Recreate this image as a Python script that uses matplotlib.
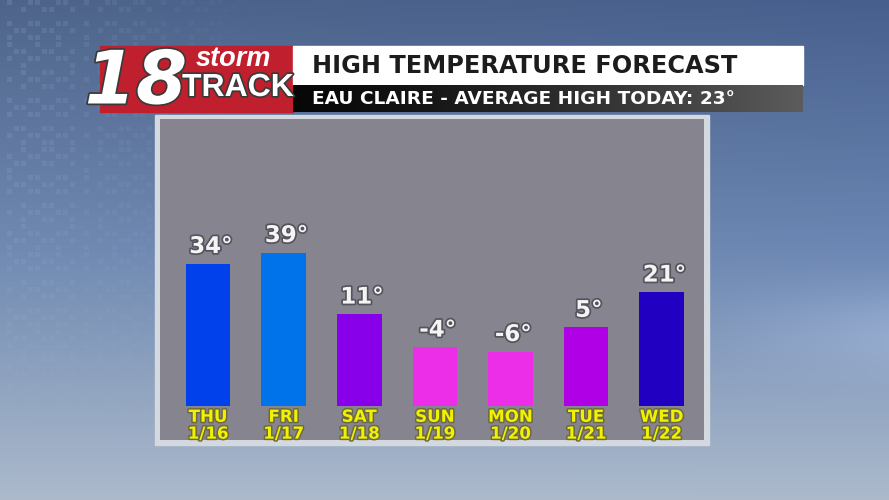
import numpy as np
import matplotlib
matplotlib.use("Agg")
import matplotlib.pyplot as plt
from matplotlib.patches import Rectangle
import matplotlib.patheffects as pe

# ---- data ----
days = ["THU", "FRI", "SAT", "SUN", "MON", "TUE", "WED"]
dates = ["1/16", "1/17", "1/18", "1/19", "1/20", "1/21", "1/22"]
highs = [34, 39, 11, -4, -6, 5, 21]
title = "HIGH TEMPERATURE FORECAST"
subtitle = "EAU CLAIRE - AVERAGE HIGH TODAY: 23°"

# ---- styles ----
bar_colors = ["#0041ec", "#0073ea", "#8800e9", "#ec2ee9", "#ec2ee9", "#b000e6", "#2200c2"]
bar_base = -30.6
panel_color = "#86848f"

W, H = 889, 500
fig = plt.figure(figsize=(W / 100, H / 100), dpi=100)

# ---- background ----
bg = fig.add_axes([0, 0, 1, 1])
bg.set_xlim(0, W)
bg.set_ylim(H, 0)
bg.axis("off")
yy, xx = np.mgrid[0:H, 0:W]
t = (yy / H)[..., None]
hx = (xx / W)[..., None]
top = np.array([78, 100, 138]) / 255
mid = np.array([112, 138, 178]) / 255
bot = np.array([172, 186, 204]) / 255
img = np.where(t < 0.5, top + (mid - top) * (t / 0.5), mid + (bot - mid) * ((t - 0.5) / 0.5))
img = img + np.array([-0.03, -0.02, 0.01]) * (hx * (1 - t))
cl = np.exp(-((yy - 330) / 45.0) ** 2)[..., None] * np.clip((hx - 0.78) / 0.22, 0, 1) * 0.07
img = np.clip(img + cl, 0, 1)
cells = ((xx % 7) < 5) & ((yy % 7) < 5)
patt = (np.sin(xx // 7 * 1.7) * np.cos(yy // 7 * 2.3) > 0.2) & cells
fade = np.clip(1 - xx / 260.0, 0, 1) * np.clip(1 - yy / 420.0, 0, 1)
img = np.clip(img + (patt * fade * 0.06)[..., None], 0, 1)
bg.imshow(img, extent=[0, W, H, 0], aspect="auto", zorder=0)

# logo box
bg.add_patch(Rectangle((100, 46), 193, 66, color="#c01f2e", zorder=2))
outline = [pe.withStroke(linewidth=2.5, foreground="#3a3a3a")]
bg.text(136, 83, "18", fontsize=53, fontweight="bold", style="italic", color="white",
        ha="center", va="center", family="DejaVu Sans", path_effects=outline, zorder=3)
bg.text(233, 59, "storm", fontsize=19.5, style="italic", fontweight="bold", color="white",
        ha="center", va="center", family="Liberation Sans", zorder=3)
bg.text(238, 88, "TRACK", fontsize=23, fontweight="bold", color="white",
        ha="center", va="center", family="Liberation Sans", path_effects=outline, zorder=3)

# title banner
bg.add_patch(Rectangle((293, 46), 510, 39, color="white", zorder=2))
grad = np.linspace(0, 1, 256)[None, :]
gcol = np.stack([0.03 + 0.33 * grad ** 1.3] * 3, axis=-1)
bg.imshow(gcol, extent=[293, 803, 112, 85], aspect="auto", zorder=2)
bg.text(312, 66, title, fontsize=17.3, fontweight="bold", color="#1c1c1c",
        ha="left", va="center", family="DejaVu Sans", zorder=3)
bg.text(312, 99, subtitle, fontsize=13.3, fontweight="bold", color="white",
        ha="left", va="center", family="DejaVu Sans", zorder=3)

# panel frame
bg.add_patch(Rectangle((155, 115), 554, 330, color="#d4d8df", zorder=2))
bg.set_xlim(0, W)
bg.set_ylim(H, 0)

# ---- chart axes ----
left, right, ptop, pbot = 160, 704, 119, 440
ax = fig.add_axes([left / W, 1 - pbot / H, (right - left) / W, (pbot - ptop) / H])
ax.set_facecolor(panel_color)
x = np.arange(len(highs))
heights = [h - bar_base for h in highs]
ax.bar(x, heights, bottom=bar_base, width=0.59, color=bar_colors, zorder=2)
ax.set_xlim(-0.635, 6.56)
ax.set_ylim(-46.2, 99.7)
for s in ax.spines.values():
    s.set_visible(False)
ax.set_xticks([])
ax.set_yticks([])

val_fx = [pe.withStroke(linewidth=2.5, foreground="#55535c")]
lab_fx = [pe.withStroke(linewidth=2.2, foreground="#6b6a40")]
for xi, h, d, dt in zip(x, highs, days, dates):
    ax.annotate(f"{h}°", (xi, h), xytext=(2, 4), textcoords="offset points",
                ha="center", va="bottom", fontsize=16.5, fontweight="bold",
                color="#f4f4f4", path_effects=val_fx, zorder=3)
    ax.annotate(f"{d}\n{dt}", (xi, bar_base), xytext=(0, -1.5), textcoords="offset points",
                ha="center", va="top", fontsize=12, fontweight="bold", color="#f2f200",
                linespacing=0.92, path_effects=lab_fx, zorder=3)

fig.savefig("out.png", dpi=100)
